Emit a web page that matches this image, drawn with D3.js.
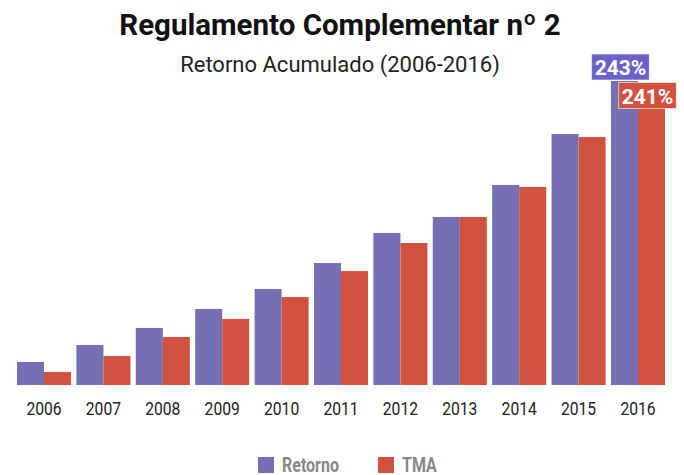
<!DOCTYPE html>
<html>
<head>
<meta charset="utf-8">
<script src="https://cdn.jsdelivr.net/npm/d3@7"></script>
<style>
  body { margin: 0; background: #fff; }
  svg text { font-family: "Roboto", "Liberation Sans", sans-serif; }
</style>
</head>
<body>
<div id="chart"></div>
<script>
// 資料
var years = ['2006','2007','2008','2009','2010','2011','2012','2013','2014','2015','2016'];
var retorno = [18.4, 32, 45.6, 60.8, 76.7, 97.5, 121.5, 134.3, 159.9, 200.6, 243];
var tma = [10.4, 23.2, 38.4, 52.8, 70.3, 91.1, 113.5, 134.3, 158.3, 198.2, 241];
var seriesNames = ['Retorno', 'TMA'];
var colors = ['#7570b3', '#d1533f'];
var labelColors = ['#6a62c8', '#d1533f'];

// 畫布
const width = 684, height = 475;
const margin = {top: 50, right: 19, bottom: 90, left: 17};

var svg = d3.select('#chart').append('svg')
  .attr('width', width)
  .attr('height', height);

var x = d3.scaleBand()
  .domain(years)
  .range([margin.left, width - margin.right])
  .paddingInner(0.09);
var x1 = d3.scaleBand()
  .domain(seriesNames)
  .range([0, x.bandwidth()]);
var y = d3.scaleLinear()
  .domain([0, 243])
  .range([height - margin.bottom, 81]);

// 標題
svg.append('text')
  .attr('x', 340).attr('y', 35)
  .attr('text-anchor', 'middle')
  .style('font-size', '29.5px')
  .style('font-weight', 'bold')
  .style('fill', '#111')
  .text('Regulamento Complementar nº 2');
svg.append('text')
  .attr('x', 340).attr('y', 72)
  .attr('text-anchor', 'middle')
  .style('font-size', '22px')
  .style('fill', '#222')
  .text('Retorno Acumulado (2006-2016)');

// bar
var rows = years.map((d, i) => ({year: d, values: [retorno[i], tma[i]]}));
var groups = svg.selectAll('g.group')
  .data(rows)
  .enter()
  .append('g')
  .attr('class', 'group')
  .attr('transform', d => `translate(${x(d.year)},0)`);
groups.selectAll('rect')
  .data(d => d.values.map((v, j) => ({name: seriesNames[j], value: v, j: j})))
  .enter()
  .append('rect')
  .attr('x', d => x1(d.name))
  .attr('y', d => y(d.value))
  .attr('width', x1.bandwidth())
  .attr('height', d => y(0) - y(d.value))
  .style('fill', d => colors[d.j]);

// X軸 (字體壓窄一點)
var xAxis = d3.axisBottom(x).tickSize(0).tickPadding(17);
var gx = svg.append('g')
  .attr('transform', `translate(0, ${y(0)})`)
  .call(xAxis);
gx.select('.domain').remove();
gx.selectAll('.tick text')
  .attr('transform', 'scale(0.87,1)')
  .style('font-size', '18px')
  .style('fill', '#222');
gx.selectAll('.tick')
  .attr('transform', d => `translate(${x(d) + x.bandwidth() / 2},0)`);

// 最後一年的數值標籤
var last = years.length - 1;
[retorno[last], tma[last]].forEach(function(v, j) {
  var cx = x(years[last]) + x1(seriesNames[j]) + x1.bandwidth() / 2 - 4;
  var g = svg.append('g');
  var t = g.append('text')
    .attr('text-anchor', 'middle')
    .style('font-size', '21px')
    .style('font-weight', 'bold')
    .style('fill', '#fff')
    .text(d3.format('.0f')(v) + '%');
  var w = t.node().getComputedTextLength() + 6;
  var h = 26;
  var bx = Math.min(cx - w / 2, width - 1 - w);
  // 第一個在bar上方，第二個往下避開重疊
  var by = j == 0 ? y(v) - h - 1 : y(v) - 1;
  g.insert('rect', 'text')
    .attr('x', bx).attr('y', by)
    .attr('width', w).attr('height', h)
    .style('fill', labelColors[j])
    .style('stroke', '#fff')
    .style('stroke-opacity', 0.6)
    .style('stroke-width', 1);
  t.attr('x', bx + w / 2).attr('y', by + h - 5);
});

// 圖例
var legendItems = [{name: 'Retorno', x: 258}, {name: 'TMA', x: 378}];
var legend = svg.selectAll('g.legend')
  .data(legendItems)
  .enter()
  .append('g')
  .attr('class', 'legend')
  .attr('transform', d => `translate(${d.x}, 457)`);
legend.append('rect')
  .attr('width', 16).attr('height', 16)
  .style('fill', (d, i) => colors[i]);
legend.append('text')
  .attr('transform', 'translate(24,15) scale(0.8,1)')
  .style('font-size', '20px')
  .style('font-weight', 'bold')
  .style('fill', '#888')
  .text(d => d.name);
</script>
</body>
</html>
